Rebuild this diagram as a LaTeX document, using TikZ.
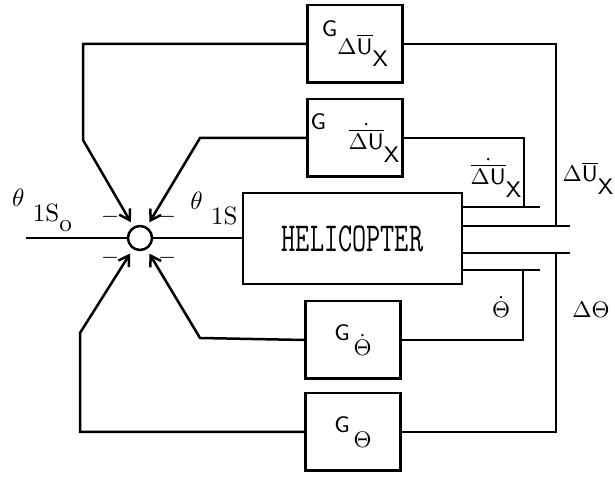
\documentclass[tikz,border=0pt]{standalone}
\usepackage{amsmath}
\usetikzlibrary{arrows.meta,calc}
\newcommand{\lowr}[2][4.5pt]{\raisebox{-#1}{#2}}

\begin{document}
\begin{tikzpicture}[x=0.4pt,y=-0.4pt,font=\small,line width=1pt,
      block/.style={draw,line width=1pt,minimum width=38pt,minimum height=31pt,
                    inner sep=0pt,font=\small\sffamily},
      plant/.style={draw,line width=1pt,minimum width=87.6pt,minimum height=36.4pt,
                    inner sep=0pt},
      junction/.style={circle,draw,line width=1pt,minimum size=9.6pt,inner sep=0pt},
      fb/.style={-{Straight Barb[length=4pt,width=5pt]},line width=1pt,shorten >=2pt},
      lab/.style={inner sep=0pt,font=\small\sffamily}]
    \useasboundingbox (0,0) rectangle (615,477);

    \node[junction] (sum) at (140,238) {};
    \node[plant] (heli) at (352.5,238.5)
      {\fontsize{11}{13}\selectfont\ttfamily\scalebox{1}[1.5]{HELICOPTER}};
    \node[block] (gdu)  at (355,44)  {G\lowr[7pt]{$\Delta\overline{\mathsf{U}}$\lowr[5pt]{X}}};
    \node[block] (gdud) at (355,138) {G\quad\lowr[8pt]{$\dot{\overline{\Delta\mathsf{U}}}$\lowr[5pt]{X}}};
    \node[block] (gtd)  at (353,340) {G\,\lowr[6pt]{$\dot{\Theta}$}};
    \node[block] (gt)   at (353,432) {G\,\lowr[6pt]{$\Theta$}};

    % input and forward path
    \coordinate (in) at (26,238);
    \draw (in) -- (sum);
    \draw (sum.east) -- (sum.east -| heli.west);
    \node[lab,font=\normalsize] (ref) at (42,210) {$\theta$\ \lowr[6pt]{1S\lowr[4pt]{o}}};
    \node[lab,font=\normalsize] (cmd) at (214,209) {$\theta$\ \lowr[6pt]{1S}};

    % plant outputs
    \foreach \n/\x/\y in {1/540/207,2/570/226,3/570/253,4/540/270}{%
      \coordinate (y\n) at (\x,\y);
      \draw (heli.east |- y\n) -- (y\n);
    }
    \coordinate (tapdud) at (524,207);
    \coordinate (tapdu)  at (556,226);
    \coordinate (tapt)   at (556,253);
    \coordinate (taptd)  at (523,270);
    \draw (tapdu)  |- (gdu.east);
    \draw (tapdud) |- (gdud.east);
    \draw (taptd)  |- (gtd.east);
    \draw (tapt)   |- (gt.east);
    \node[lab] (ldud) at (496,178) {$\dot{\overline{\Delta\mathsf{U}}}$\lowr[5pt]{X}};
    \node[lab] (ldu)  at (588,178) {$\Delta\overline{\mathsf{U}}$\lowr[5pt]{X}};
    \node[lab] (ltd)  at (501,307) {$\dot{\Theta}$};
    \node[lab] (lt)   at (591,310) {$\Delta\Theta$};

    % feedback into the summing point
    \coordinate (k1) at (83,140);
    \coordinate (k2) at (200,138);
    \coordinate (k3) at (200,338);
    \coordinate (k4) at (80,333);
    \draw[fb] (gdu.west) -| (k1) -- (sum);
    \draw[fb] (gdud.west) -- (k2) -- (sum);
    \draw[fb] (gtd.west) -- (k3) -- (sum);
    \draw[fb] (gt.west) -| (k4) -- (sum);
    \foreach \x/\y [count=\i] in {110/217,167/217,110/258,167/258}
      \node[lab] (minus\i) at (\x,\y) {$-$};
  \end{tikzpicture}
\end{document}
